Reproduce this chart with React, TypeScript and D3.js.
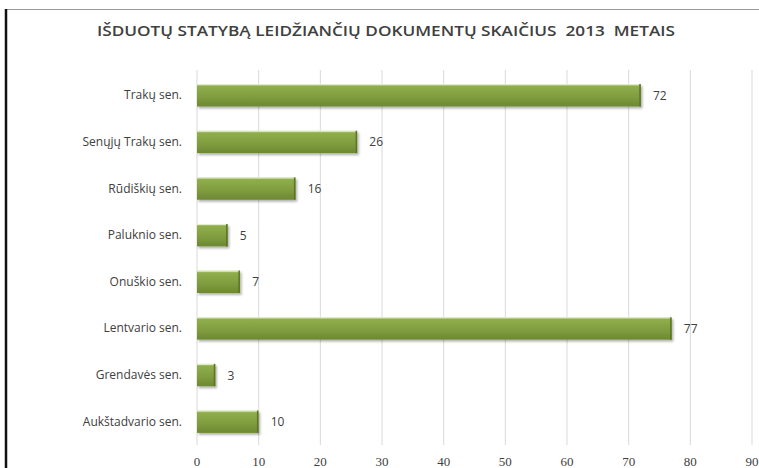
import React from 'react';
import * as d3 from 'd3';

const title = 'IŠDUOTŲ STATYBĄ LEIDŽIANČIŲ DOKUMENTŲ SKAIČIUS  2013  METAIS';
const categories = [
  'Trakų sen.',
  'Senųjų Trakų sen.',
  'Rūdiškių sen.',
  'Paluknio sen.',
  'Onuškio sen.',
  'Lentvario sen.',
  'Grendavės sen.',
  'Aukštadvario sen.',
];
const values = [72, 26, 16, 5, 7, 77, 3, 10];
const xTicks = [0, 10, 20, 30, 40, 50, 60, 70, 80, 90];

const W = 759;
const H = 468;
const margin = { top: 72, right: 7, bottom: 23, left: 197 };

export default function App() {
  const x = d3.scaleLinear().domain([0, 90]).range([margin.left, W - margin.right]);
  const y = d3
    .scaleBand<string>()
    .domain(categories)
    .range([margin.top, H - margin.bottom])
    .paddingInner(0.52)
    .paddingOuter(0.26);
  const bh = y.bandwidth();

  return (
    <svg
      width={W}
      height={H}
      style={{ position: 'absolute', left: 0, top: 0, background: '#fff' }}
      fontFamily="'Open Sans', sans-serif"
    >
      <defs>
        <linearGradient id="barFill" x1="0" y1="0" x2="0" y2="1">
          <stop offset="0" stopColor="#c4d99a" />
          <stop offset="0.1" stopColor="#8fae4c" />
          <stop offset="0.6" stopColor="#7f9c3e" />
          <stop offset="1" stopColor="#6c8833" />
        </linearGradient>
        <filter id="shadow" x="-5%" y="-20%" width="115%" height="160%">
          <feDropShadow dx="1.5" dy="2" stdDeviation="1.2" floodColor="#000" floodOpacity="0.3" />
        </filter>
      </defs>

      {/* frame */}
      <line x1={6} x2={W} y1={9.5} y2={9.5} stroke="#999" strokeWidth={1} />
      <line x1={6} x2={6} y1={9} y2={H} stroke="#111" strokeWidth={2.5} />

      <text
        x={386}
        y={36}
        textAnchor="middle"
        fontSize={14}
        fill="#404040"
        fontWeight={600}
        textLength={578}
        lengthAdjust="spacingAndGlyphs"
        style={{ whiteSpace: 'pre' }}
      >
        {title}
      </text>

      {/* grid */}
      {xTicks.map((t) => (
        <line
          key={t}
          x1={x(t)}
          x2={x(t)}
          y1={margin.top - 2}
          y2={H - margin.bottom}
          stroke="#d9d9d9"
          strokeWidth={1}
        />
      ))}

      {xTicks.map((t) => (
        <text
          key={'t' + t}
          x={x(t)}
          y={466}
          textAnchor="middle"
          fontSize={13}
          fill="#404040"
          fontFamily="'Liberation Serif', serif"
        >
          {t}
        </text>
      ))}

      {categories.map((c, i) => {
        const yy = y(c)!;
        const x0 = x(0);
        const x1 = x(values[i]);
        return (
          <g key={c}>
            <rect
              x={x0}
              y={yy}
              width={x1 - x0}
              height={bh}
              fill="url(#barFill)"
              filter="url(#shadow)"
            />
            <line x1={x0} x2={x1} y1={yy + 0.5} y2={yy + 0.5} stroke="#e4efcc" strokeWidth={1} />
            <line x1={x1 - 1} x2={x1 - 1} y1={yy} y2={yy + bh} stroke="#5c7528" strokeWidth={1.5} />
            <text
              x={x0 - 15}
              y={yy + bh / 2 + 4}
              textAnchor="end"
              fontSize={12}
              fill="#404040"
            >
              {c}
            </text>
            <text x={x1 + 12} y={yy + bh / 2 + 4.5} fontSize={12} fill="#404040">
              {values[i]}
            </text>
          </g>
        );
      })}
    </svg>
  );
}
